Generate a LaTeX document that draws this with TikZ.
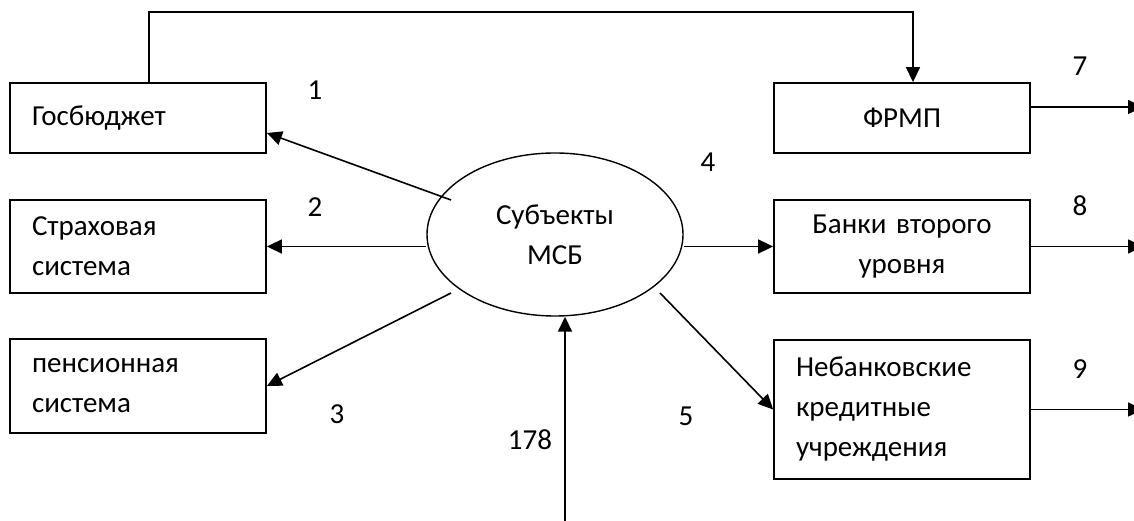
\documentclass[tikz,border=0pt]{standalone}
\usepackage{fontspec}
\setmainfont{Carlito}
\usepackage{tikz}
\usetikzlibrary{positioning,shapes,arrows.meta,calc}

\begin{document}
\begin{tikzpicture}[x=1pt,y=1pt]
\tikzset{
    block/.style={rectangle, draw=black, line width=1.8pt, text width=212pt, inner xsep=22pt, align=left, font=\fontsize{29}{40}\selectfont},
    blockc/.style={block, align=center},
    flow/.style={line width=1.6pt, -{Triangle[length=15pt,width=14pt]}},
    num/.style={font=\fontsize{29}{30}\selectfont, inner sep=0pt}
}
\useasboundingbox (0,0) rectangle (1134,521);

\node[block, minimum height=70pt] (gos) at (138,403) {Госбюджет};
\node[block, minimum height=93pt] (strah) at (138,274.5) {Страховая\\система};
\node[block, minimum height=94pt] (pens) at (138,135) {пенсионная\\система};

\node[blockc, minimum height=70pt] (frmp) at (902,403) {ФРМП};
\node[blockc, minimum height=93pt] (banki) at (902,274.5) {Банки второго\\уровня};
\node[block, minimum height=139pt] (nebank) at (902,111.5) {Небанковские\\кредитные\\учреждения};

\node[ellipse, draw, line width=1.4pt, minimum width=256pt, minimum height=163pt, align=center, font=\fontsize{29}{40}\selectfont] (subj) at (555,286.5) {Субъекты\\МСБ};

\coordinate (src) at (565,0);
\coordinate (out7) at (1143,414);
\coordinate (out8) at (1143,274.5);
\coordinate (out9) at (1143,111.5);

\draw[flow] ([xshift=11pt]gos.north) -- ++(0,70) -| ([xshift=11pt]frmp.north);
\draw[flow] ($(subj.center)+(-104,34.5)$) -- ([yshift=-15pt]gos.east);
\draw[flow] (subj.west |- strah.east) -- (strah.east);
\draw[flow] ($(subj.center)+(-104,-58.5)$) -- (pens.east);
\draw[flow] (subj.east |- banki.west) -- (banki.west);
\draw[flow] ($(subj.center)+(105,-58.5)$) -- (nebank.west);
\draw[flow] (src) -- (src |- subj.south);

\draw[flow] ([yshift=11pt]frmp.east) -- (out7);
\draw[flow] (banki.east) -- (out8);
\draw[flow] (nebank.east) -- (out9);

\node[num] (lbl1) at (315,431) {1};
\node[num] (lbl2) at (315,314) {2};
\node[num] (lbl3) at (337,107) {3};
\node[num] (lbl4) at (708,359) {4};
\node[num] (lbl5) at (686,105) {5};
\node[num] (lbl7) at (1080,455) {7};
\node[num] (lbl8) at (1080,315) {8};
\node[num] (lbl9) at (1080,152) {9};
\node[num] (lbl178) at (530,81) {178};
\end{tikzpicture}
\end{document}
